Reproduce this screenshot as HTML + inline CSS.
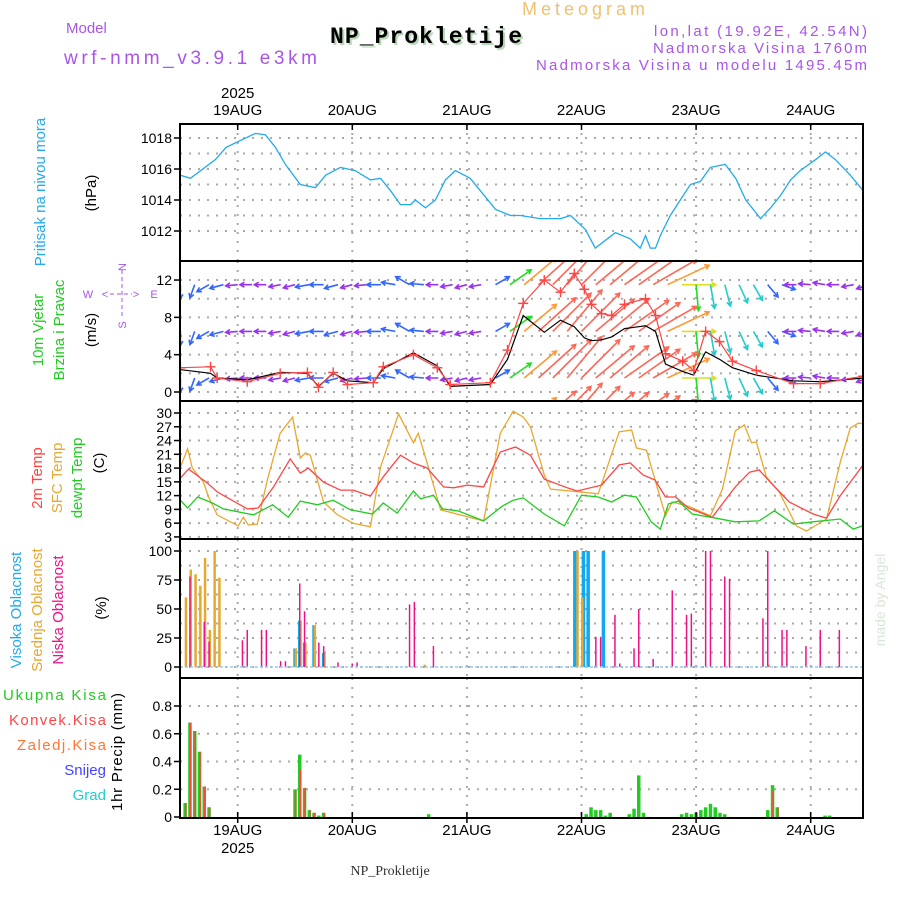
<!DOCTYPE html>
<html><head><meta charset="utf-8"><style>
html,body{margin:0;padding:0;background:#fff;}
svg{display:block;font-family:"Liberation Sans",sans-serif;}
</style></head><body>
<svg id="chart" width="900" height="900" viewBox="0 0 900 900" xmlns="http://www.w3.org/2000/svg">
<defs>
<clipPath id="clipWind"><rect x="181" y="262" width="681" height="138"/></clipPath>
</defs>
<g id="header">
<text x="66" y="33" font-size="15" fill="#a855e8">Model</text>
<text x="64" y="64" font-size="19" fill="#a855e8" textLength="253">wrf-nmm_v3.9.1 e3km</text>
<text x="522" y="15" font-size="18" fill="#f0c070" textLength="123">Meteogram</text>
<text x="332" y="45" font-size="23" font-weight="bold" fill="#b8d8b8" textLength="192" font-family="Liberation Mono,monospace">NP_Prokletije</text>
<text x="330" y="43" font-size="23" font-weight="bold" fill="#000" textLength="192" font-family="Liberation Mono,monospace">NP_Prokletije</text>
<text x="867" y="36" font-size="15" fill="#a855e8" text-anchor="end" textLength="213">lon,lat (19.92E, 42.54N)</text>
<text x="867" y="53" font-size="15" fill="#a855e8" text-anchor="end" textLength="214">Nadmorska Visina 1760m</text>
<text x="867" y="70" font-size="15" fill="#a855e8" text-anchor="end" textLength="331">Nadmorska Visina u modelu 1495.45m</text>
<text x="390" y="875" font-size="14" fill="#333" text-anchor="middle" font-family="Liberation Serif,serif">NP_Prokletije</text>
<text x="885" y="600" font-size="14" fill="#d8e6d8" text-anchor="middle" transform="rotate(-90 885 600)">made by Angel</text>
</g>
<g id="leftlabels" font-size="15">
<text transform="translate(45 192) rotate(-90)" text-anchor="middle" fill="#22aaee">Pritisak na nivou mora</text>
<text transform="translate(96 193) rotate(-90)" text-anchor="middle" fill="#000">(hPa)</text>
<text transform="translate(43 330) rotate(-90)" text-anchor="middle" fill="#22cc22">10m Vjetar</text>
<text transform="translate(64 330) rotate(-90)" text-anchor="middle" fill="#22cc22">Brzina i Pravac</text>
<text transform="translate(96 330) rotate(-90)" text-anchor="middle" fill="#000">(m/s)</text>
<g fill="#a855e8" font-size="11" text-anchor="middle">
<text x="88" y="298">W</text><text x="154" y="298">E</text>
<text x="105" y="298">&lt;</text><text x="136" y="298">&gt;</text>
<line x1="110" y1="294" x2="132" y2="294" stroke="#a855e8" stroke-dasharray="4 3"/>
<line x1="122" y1="270" x2="122" y2="316" stroke="#a855e8" stroke-dasharray="4 3"/>
<text transform="translate(126 267) rotate(-90)">N</text>
<text transform="translate(126 325) rotate(-90)">S</text>
</g>
<text transform="translate(42 478) rotate(-90)" text-anchor="middle" fill="#ff4444">2m Temp</text>
<text transform="translate(62 478) rotate(-90)" text-anchor="middle" fill="#e8a830">SFC Temp</text>
<text transform="translate(82 478) rotate(-90)" text-anchor="middle" fill="#22cc22">dewpt Temp</text>
<text transform="translate(104 463) rotate(-90)" text-anchor="middle" fill="#000">(C)</text>
<text transform="translate(21 610) rotate(-90)" text-anchor="middle" fill="#22aaee">Visoka Oblacnost</text>
<text transform="translate(42 610) rotate(-90)" text-anchor="middle" fill="#e8a830">Srednja Oblacnost</text>
<text transform="translate(63 610) rotate(-90)" text-anchor="middle" fill="#ee1188">Niska Oblacnost</text>
<text transform="translate(106 608) rotate(-90)" text-anchor="middle" fill="#000">(%)</text>
<text x="106" y="700" text-anchor="end" fill="#22cc22" textLength="103">Ukupna Kisa</text>
<text x="106" y="725" text-anchor="end" fill="#ff4444" textLength="97">Konvek.Kisa</text>
<text x="106" y="750" text-anchor="end" fill="#ff7733" textLength="89">Zaledj.Kisa</text>
<text x="106" y="775" text-anchor="end" fill="#4444ff">Snijeg</text>
<text x="106" y="800" text-anchor="end" fill="#22cccc">Grad</text>
<text transform="translate(122 752) rotate(-90)" text-anchor="middle" fill="#000" textLength="118">1hr Precip (mm)</text>
</g>
<g id="grid"></g>
<g id="marks"></g>
<g id="frames"></g>
</svg>
<script>
// ---- data ----
const dayLabels = ["19AUG","20AUG","21AUG","22AUG","23AUG","24AUG"];
const yearLabel = "2025";
const pressureTicks = [1012,1014,1016,1018];
const windTicks = [0,4,8,12];
const tempTicks = [3,6,9,12,15,18,21,24,27,30];
const cloudTicks = [0,25,50,75,100];
const precipTicks = [0,0.2,0.4,0.6,0.8];

const pressureHours = [0,2.1,7.3,9.6,15.7,17.8,19.9,22,25.1,28.3,30.4,33.5,36.6,39.8,41.9,44,46.1,48.2,49.2,51.3,53.4,55.5,57.6,60.7,62.8,66,69.1,71.2,75.4,79.6,81.7,84.8,86.9,89,91.1,94.2,96.3,97.4,98.4,99.5,100.5,102.6,104.7,106.8,108.9,111,114.1,116.3,118.4,121.5,123.6,125.7,127.8,129.8,133,135.1,137.2,140.3,143];
const pressureValues = [1015.6,1015.4,1016.6,1017.4,1018.3,1018.2,1017.4,1016.3,1015.0,1014.8,1015.6,1016.1,1015.9,1015.3,1015.4,1014.6,1013.7,1013.7,1014.0,1013.5,1014.0,1015.3,1015.9,1015.4,1014.6,1013.4,1013.0,1013.0,1012.8,1012.8,1013.0,1012.1,1010.9,1011.4,1011.9,1011.5,1010.9,1011.7,1010.9,1010.9,1011.7,1013.0,1014.0,1015.0,1015.2,1016.1,1016.3,1015.4,1014.0,1012.8,1013.5,1014.3,1015.3,1015.9,1016.6,1017.1,1016.6,1015.6,1014.6];

const windHours = [0,6.3,7.7,14,20.9,26.6,28.9,32,35,40.4,42.5,48.8,53.8,56.5,64.9,68.5,71.8,76.2,79.6,82.5,84.6,86.1,88.2,90.3,93,97.4,99.5,101.6,105.2,107.5,110,112.9,115.6,120.6,128.4,134,143];
const windSpeed = [2.6,2.7,1.5,1.1,2.0,2.1,0.5,2.1,0.8,1.0,2.7,4.0,2.6,0.8,1.0,4.5,9.5,12.0,10.7,12.7,11.0,9.4,8.4,8.2,9.4,10.0,8.2,4.1,3.3,2.3,6.5,5.4,3.3,2.3,0.9,0.9,1.7];
const windBlack = [2.4,2.0,1.5,1.3,2.1,2.0,0.6,2.0,1.2,1.0,2.5,4.2,2.8,0.6,0.8,3.5,8.2,6.4,7.7,7.0,5.8,5.5,5.6,5.9,6.8,7.1,6.5,3.0,2.2,1.8,4.3,3.5,2.6,1.8,1.2,1.1,1.5];

const arrowHours = [0,3,6,9,12,15,18,21,24,27,30,33,36,39,42,45,48,51,54,57,60,63,66,69,72,75,78,81,84,87,90,93,96,99,102,105,108,111,114,117,120,123,126,129,132,135,138,141,144];
const arrowSpeed = [2,2,2,2,1.5,1.5,1.5,1.5,1.5,2,2,2,1.5,1.5,2,2,2.5,2,1.5,1.5,1.5,1.5,2.5,5,9,11,12,12,12,11,11,12,11,11,10,7,5,4.5,4,3.5,3,2.5,2,1.5,1.5,1.5,1.5,1.5,1.5];
const arrowDir = [180,200,240,255,265,270,270,260,255,260,270,255,255,265,270,280,300,275,270,260,255,260,60,55,50,48,45,40,45,50,50,55,55,60,65,90,175,170,165,155,150,140,110,270,275,280,270,260,250];
const arrowRows = [11.5,6.5,1.5,-3.5];

const sfcHours = [0,1.5,2.5,4.8,5.9,7.7,12.1,13.2,14.2,16.1,18.2,20.9,23.5,25.1,26.2,27.2,30,32.9,36.2,39.8,41.9,45.7,48.8,49.8,50.9,54.5,59.3,63.5,67,69.7,71.8,73.3,76.2,77.5,83.6,87.5,91.9,94.5,95.5,97.6,101.6,103,106.4,111,113.5,116.2,118.1,119.6,120.6,122.7,125.4,129,131.1,135.3,138.2,140.3,142,143.2];
const sfcTemp = [18.2,22.2,18,15,11.7,7.8,5.4,7.3,5.6,5.8,15.4,25.6,29.1,20.2,21.3,20.8,10.6,7.8,6.0,5.2,18.2,29.8,23.5,25.6,21.9,8.9,7.6,6.5,25.6,30.4,29.1,27,16.5,13.4,12.8,12.4,25.9,26.3,22.4,21.9,7.6,10.6,9.7,7.6,13.4,26.1,27.4,23.5,23.7,16.1,12.8,5.4,4.3,6.9,19.3,26.7,27.8,27.6];
const t2Hours = [0,1.7,5.7,7.7,14,16.3,19.5,23,25.1,26.8,29.9,33.5,36.2,39.8,42.5,46.1,48.8,51.7,55.1,57.2,60.1,63.5,67,70.2,73.3,76.2,81,83.1,88.2,91.9,94.2,96.9,99.4,101.6,103.7,106.4,111.4,116.2,119.2,121.2,123.9,127.5,132.5,135.3,138.2,143];
const t2Temp = [15.8,17.8,14.7,12.8,9.1,9.3,13.9,20.0,16.9,18.0,15.0,13.2,13.2,11.9,16.1,20.8,19.1,18.0,13.9,13.7,14.3,13.9,21.5,22.6,20.8,15.6,13.7,13.0,14.3,18.7,19.1,16.5,15.4,11.7,11.7,9.3,7.3,13.9,17.1,17.6,14.5,10.6,8.0,7.1,12.0,18.7];
const dewHours = [0,1.5,3.6,6.7,9,15.3,19.3,22.6,25.1,28.7,32,35.6,40.2,42.5,45.4,48.8,50.3,53,54.9,58.1,63.5,67.4,69.7,71.8,76.2,80.4,84,87.5,90.3,93,95.5,98.6,100.5,102.2,104.3,107.2,111,116.2,121.2,124.4,128.4,132.5,138.2,140.9,143];
const dewTemp = [11.0,9.3,11.7,10.4,9.1,7.8,10.0,7.3,10.8,10.0,11.0,8.9,8.0,10.4,8.2,13.0,11.3,12.1,9.1,8.7,6.5,9.7,11.0,11.5,8.0,5.4,12.1,11.7,10.6,12.1,11.7,6.3,4.7,10.2,10.8,8.0,7.3,6.3,6.5,8.7,5.8,6.3,6.9,4.7,5.5];

const lowCloudHours = [2,5,6,13,14,17,18,21,22,25,26,29,30,33,36,37,48,49,53,87,88,91,92,95,96,99,103,106,107,110,111,114,115,122,123,126,127,131,134,138];
const lowCloud = [78,39,22,23,32,32,32,5,5,72,48,21,18,4,3,4,54,56,18,26,26,45,3,16,50,7,66,45,46,100,100,78,76,42,100,32,32,18,32,32];
const midCloudHours = [1,2,3,4,5,6,7,8,24,25,26,28,30,51,83,84,123];
const midCloud = [60,84,80,70,94,32,100,77,16,40,21,36,12,2,100,60,2];
const highCloudHours = [24,25,26,28,30,82.6,84.4,85.4,88.6];
const highCloud = [16,40,21,36,12,100,100,100,100];

const totalPrecipHours = [1,2,3,4,5,6,24,25,26,27,28,29,30,52,85,86,87,88,89,90,94,95,96,97,105,106,107,108,109,110,111,112,113,114,123,124,125,135,136];
const totalPrecip = [0.10,0.68,0.62,0.47,0.22,0.07,0.20,0.45,0.21,0.05,0.03,0.01,0.03,0.02,0.02,0.07,0.05,0.05,0.01,0.03,0.02,0.06,0.30,0.03,0.02,0.03,0.02,0.03,0.05,0.07,0.095,0.07,0.03,0.02,0.05,0.23,0.07,0.01,0.01];
const convPrecipHours = [1,2,3,4,5,6,24,25,26,27,28,30,124,125];
const convPrecip = [0.10,0.68,0.62,0.47,0.22,0.07,0.19,0.34,0.21,0.05,0.03,0.03,0.19,0.07];

// ---- scales ----
const X0=180, X1=863, DAYPX=114.6;
function xh(h){ return 237.7 + (h-12)*DAYPX/24; }
const P = {top:124,bot:261};  function yP(v){ return 138 + (1018-v)*15.5; }
const W = {top:261,bot:401};  function yW(v){ return 392 - v*9.33; }
const T = {top:401,bot:539};  function yT(v){ return 413 + (30-v)*4.59; }
const C = {top:539,bot:678};  function yC(v){ return 667 - v*1.16; }
const R = {top:678,bot:818};  function yR(v){ return 817 - v*138.75; }

const NS="http://www.w3.org/2000/svg";
function mk(tag, attrs, parent){
  const e=document.createElementNS(NS,tag);
  for(const k in attrs) e.setAttribute(k, attrs[k]);
  parent.appendChild(e); return e;
}
const grid=document.getElementById('grid');
const marks=document.getElementById('marks');
const frames=document.getElementById('frames');

const panels=[[P,pressureTicks,yP,v=>v,"pressure"],[W,windTicks,yW,v=>v,"wind"],[T,tempTicks,yT,v=>v,"temp"],[C,cloudTicks,yC,v=>v,"cloud"],[R,precipTicks,yR,v=>(v===0?"0":v.toFixed(1)),"precip"]];
const gridExtra = {pressure:[1013,1015,1017], wind:[2,6,10], temp:[], cloud:[12.5,37.5,62.5,87.5], precip:[]};
panels.forEach(([pn,ticks,ys,fmt,name])=>{
  const gy = ticks.concat(gridExtra[name]);
  gy.forEach(v=>{
    const y=ys(v);
    if(y>pn.top+2 && y<pn.bot-2){
      const l=mk('line',{x1:X0,x2:X1,y1:y,y2:y,stroke:'#aaa','stroke-width':2,'stroke-dasharray':'2 7'},grid);
      
      
    }
  });
  for(let d=0; d<dayLabels.length; d++){
    const x=xh(12+24*d);
    const l=mk('line',{x1:x,x2:x,y1:pn.top,y2:pn.bot,stroke:'#aaa','stroke-width':2,'stroke-dasharray':'2 7'},grid);
    
    
  }
  ticks.forEach(v=>{
    const y=ys(v);
    const tk=mk('line',{x1:X0-6,x2:X0,y1:y,y2:y,stroke:'#000','stroke-width':1.5},frames);
    
    
    const t=mk('text',{x:X0-8,y:y+5,'font-size':14,'text-anchor':'end',fill:'#000'},frames);
    t.textContent=fmt(v);
    
    
  });
  const r=mk('rect',{x:X0,y:pn.top,width:X1-X0,height:pn.bot-pn.top,fill:'none',stroke:'#000','stroke-width':2},frames);
  
  
});
// day labels
dayLabels.forEach((lab,d)=>{
  const x=xh(12+24*d);
  const t=mk('text',{x:x,y:115,'font-size':15,'text-anchor':'middle',fill:'#000'},frames);
  t.textContent=lab;
  
  
  const b=mk('text',{x:x,y:835,'font-size':15,'text-anchor':'middle',fill:'#000'},frames);
  b.textContent=lab;
  
  
  [[P.top,P.top+6],[R.bot-6,R.bot+5]].forEach(([a,c])=>{
    const tk=mk('line',{x1:x,x2:x,y1:a,y2:c,stroke:'#000','stroke-width':1.5},frames);
    
    
  });
});
const yt=mk('text',{x:xh(12),y:98,'font-size':15,'text-anchor':'middle',fill:'#000'},frames);
yt.textContent=yearLabel;


const yb=mk('text',{x:xh(12),y:853,'font-size':15,'text-anchor':'middle',fill:'#000'},frames);
yb.textContent=yearLabel;



function line(hours, vals, ys, color, name, parent, w){
  const n=Math.min(hours.length, vals.length);
  let d='';
  for(let i=0;i<n;i++) d+=(i?'L':'M')+xh(hours[i]).toFixed(1)+','+ys(vals[i]).toFixed(1);
  const p=mk('path',{d:d,fill:'none',stroke:color,'stroke-width':w||1.3},parent||marks);
  
  
  return p;
}
// pressure
line(pressureHours, pressureValues, yP, '#22aaee', 'pressure-line');

// wind arrows
const wg=mk('g',{'clip-path':'url(#clipWind)'},marks);


function spdColor(v){
  if(v<1.8) return '#9933ee';
  if(v<3) return '#3366ff';
  if(v<5) return '#22cccc';
  if(v<7) return '#22dd22';
  if(v<9) return '#dddd22';
  if(v<11) return '#ff9933';
  return '#ff6655';
}
arrowRows.forEach(row=>{
  const n=Math.min(arrowHours.length, arrowSpeed.length, arrowDir.length);
  for(let i=0;i<n;i++){
    const x=xh(arrowHours[i]), y=yW(row);
    const v=arrowSpeed[i], a=arrowDir[i]*Math.PI/180;
    const L=6+4*v;
    const dx=Math.sin(a)*L, dy=-Math.cos(a)*L;
    const tx=x+dx, ty=y+dy;
    const col=spdColor(v);
    const ux=dx/L, uy=dy/L, hl=5;
    const h1x=tx-hl*(ux*0.87-uy*0.5), h1y=ty-hl*(uy*0.87+ux*0.5);
    const h2x=tx-hl*(ux*0.87+uy*0.5), h2y=ty-hl*(uy*0.87-ux*0.5);
    const ar=mk('path',{d:`M${x.toFixed(1)},${y.toFixed(1)}L${tx.toFixed(1)},${ty.toFixed(1)}M${h1x.toFixed(1)},${h1y.toFixed(1)}L${tx.toFixed(1)},${ty.toFixed(1)}L${h2x.toFixed(1)},${h2y.toFixed(1)}`,stroke:col,'stroke-width':1.6,fill:'none'},wg);
    
    
  }
});
// wind speed lines
line(windHours, windBlack, yW, '#000', 'wind-gust-line', wg, 1.2);
line(windHours, windSpeed, yW, '#ff4444', 'wind-speed-line', wg, 1.2);
for(let i=0;i<Math.min(windHours.length,windSpeed.length);i++){
  const x=xh(windHours[i]), y=yW(windSpeed[i]);
  const c=mk('path',{d:`M${x-5},${y}L${x+5},${y}M${x},${y-5}L${x},${y+5}`,stroke:'#ff4444','stroke-width':1.4},wg);
  
  
}

// temperatures
line(sfcHours, sfcTemp, yT, '#e8a830', 'sfc-temp-line');
line(t2Hours, t2Temp, yT, '#ff4444', 'temp-2m-line');
line(dewHours, dewTemp, yT, '#22cc22', 'dewpt-line');

// cloud bars
function bars(hours, vals, ys, base, color, w, off, name){
  const n=Math.min(hours.length, vals.length);
  for(let i=0;i<n;i++){
    const x=xh(hours[i])+off, y=ys(vals[i]);
    const r=mk('rect',{x:(x-w/2).toFixed(1),y:y.toFixed(1),width:w,height:Math.max(0,base-y).toFixed(1),fill:color},marks);
    
    
  }
}
bars(highCloudHours, highCloud, yC, yC(0), '#11a8f0', 3.5, 0, 'high-cloud-bar');
bars(midCloudHours, midCloud, yC, yC(0), '#e8a830', 2.5, 0.8, 'mid-cloud-bar');
bars(lowCloudHours, lowCloud, yC, yC(0), '#ee1188', 1.5, 0, 'low-cloud-bar');
const cb=mk('line',{x1:X0,x2:X1,y1:yC(0),y2:yC(0),stroke:'#9acce8','stroke-width':1.5,'stroke-dasharray':'3 2'},marks);



// precip bars
bars(totalPrecipHours, totalPrecip, yR, yR(0), '#22cc22', 3.5, 0, 'total-precip-bar');
bars(convPrecipHours, convPrecip, yR, yR(0), '#ff4444', 1.6, 0.5, 'convective-precip-bar');
</script>
</body></html>
